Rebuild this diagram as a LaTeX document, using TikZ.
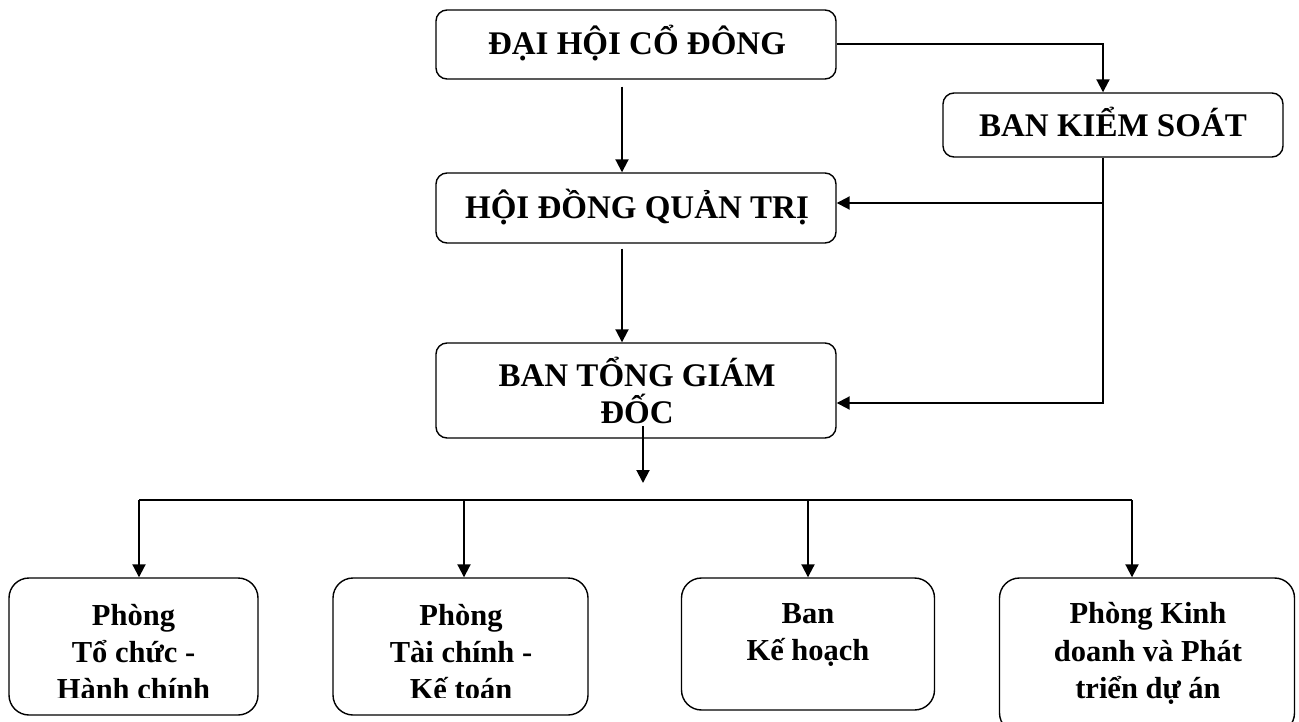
\documentclass[tikz,border=0pt]{standalone}
\usepackage{fontspec}
\setmainfont{Liberation Serif}
\usetikzlibrary{arrows.meta,calc}
\begin{document}
\begin{tikzpicture}[x=1pt,y=-1pt,
  box/.style={draw, line width=1.4pt, rounded corners=11pt, inner sep=0pt},
  bigbox/.style={box, rounded corners=20pt},
  conn/.style={line width=2pt},
  arr/.style={conn, -{Triangle[length=13pt,width=13pt]}},
  ttop/.style={font=\fontsize{33}{38}\selectfont\bfseries, anchor=base, inner sep=0pt},
  tbot/.style={font=\fontsize{30.5}{36}\selectfont\bfseries, anchor=base, inner sep=0pt}]
\useasboundingbox (0,0) rectangle (1299,722);
\fill[white] (0,0) rectangle (1299,722);

% boxes
\node[box, minimum width=400pt, minimum height=69pt] (dhcd) at (636,44.5) {};
\node[box, minimum width=340pt, minimum height=64pt] (bks) at (1113,125) {};
\node[box, minimum width=400pt, minimum height=70pt] (hdqt) at (636,208) {};
\node[box, minimum width=400pt, minimum height=95pt] (btgd) at (636,390.5) {};
\node[bigbox, minimum width=249pt, minimum height=137pt] (p1) at (133.5,646.5) {};
\node[bigbox, minimum width=255pt, minimum height=137pt] (p2) at (460.5,646.5) {};
\node[bigbox, minimum width=253pt, minimum height=132pt] (p3) at (808,644) {};
\node[bigbox, minimum width=295pt, minimum height=155pt] (p4) at (1147,655.5) {};

% texts
\node[ttop] (tdhcd) at (637,54.5) {ĐẠI HỘI CỔ ĐÔNG};
\node[ttop] (tbks) at (1113,137) {BAN KIỂM SOÁT};
\node[ttop] (thdqt) at (637,219) {HỘI ĐỒNG QUẢN TRỊ};
\begin{scope}
  \clip (436,343) rectangle (836,424.5);
  \node[ttop] (tbtgd1) at (637,386) {BAN TỔNG GIÁM};
  \node[ttop] (tbtgd2) at (637,423.5) {ĐỐC};
\end{scope}
\begin{scope}
  \clip (0,578) rectangle (600,697);
  \node[tbot] (tp1a) at (133.5,625) {Phòng};
  \node[tbot] (tp1b) at (133.5,662) {Tổ chức -};
  \node[tbot] (tp1c) at (133.5,699.5) {Hành chính};
  \node[tbot] (tp2a) at (461,625) {Phòng};
  \node[tbot] (tp2b) at (461,662) {Tài chính -};
  \node[tbot] (tp2c) at (461,699.5) {Kế toán};
\end{scope}
\node[tbot] (tp3a) at (808,623) {Ban};
\node[tbot] (tp3b) at (808,660) {Kế hoạch};
\node[tbot] (tp4a) at (1148,623) {Phòng Kinh};
\node[tbot] (tp4b) at (1148,661) {doanh và Phát};
\node[tbot] (tp4c) at (1148,698) {triển dự án};

% connectors
\draw[arr] (dhcd.east) -| ([xshift=-10pt]bks.north);
\draw[arr] ($(dhcd.south)+(-14,7)$) -- ($(hdqt.north)+(-14,0)$);
\coordinate (j1) at (1103,203);
\coordinate (j2) at (1103,403);
\draw[conn] ([xshift=-10pt]bks.south) -- (j1);
\draw[arr] (j1) -- (j1 -| hdqt.east);
\draw[arr] (j1) -- (j2) -- (j2 -| btgd.east);
\draw[arr] ($(hdqt.south)+(-14,5)$) -- ($(btgd.north)+(-14,0)$);
\coordinate (d0) at (643,426);
\coordinate (d1) at (643,483);
\draw[arr] (d0) -- (d1);
\coordinate (b1) at (139,500);
\coordinate (b2) at (464,500);
\coordinate (b3) at (808,500);
\coordinate (b4) at (1132,500);
\draw[conn] (b1) -- (b4);
\draw[arr] (b1) -- (b1 |- p1.north);
\draw[arr] (b2) -- (b2 |- p2.north);
\draw[arr] (b3) -- (b3 |- p3.north);
\draw[arr] (b4) -- (b4 |- p4.north);
\end{tikzpicture}
\end{document}
